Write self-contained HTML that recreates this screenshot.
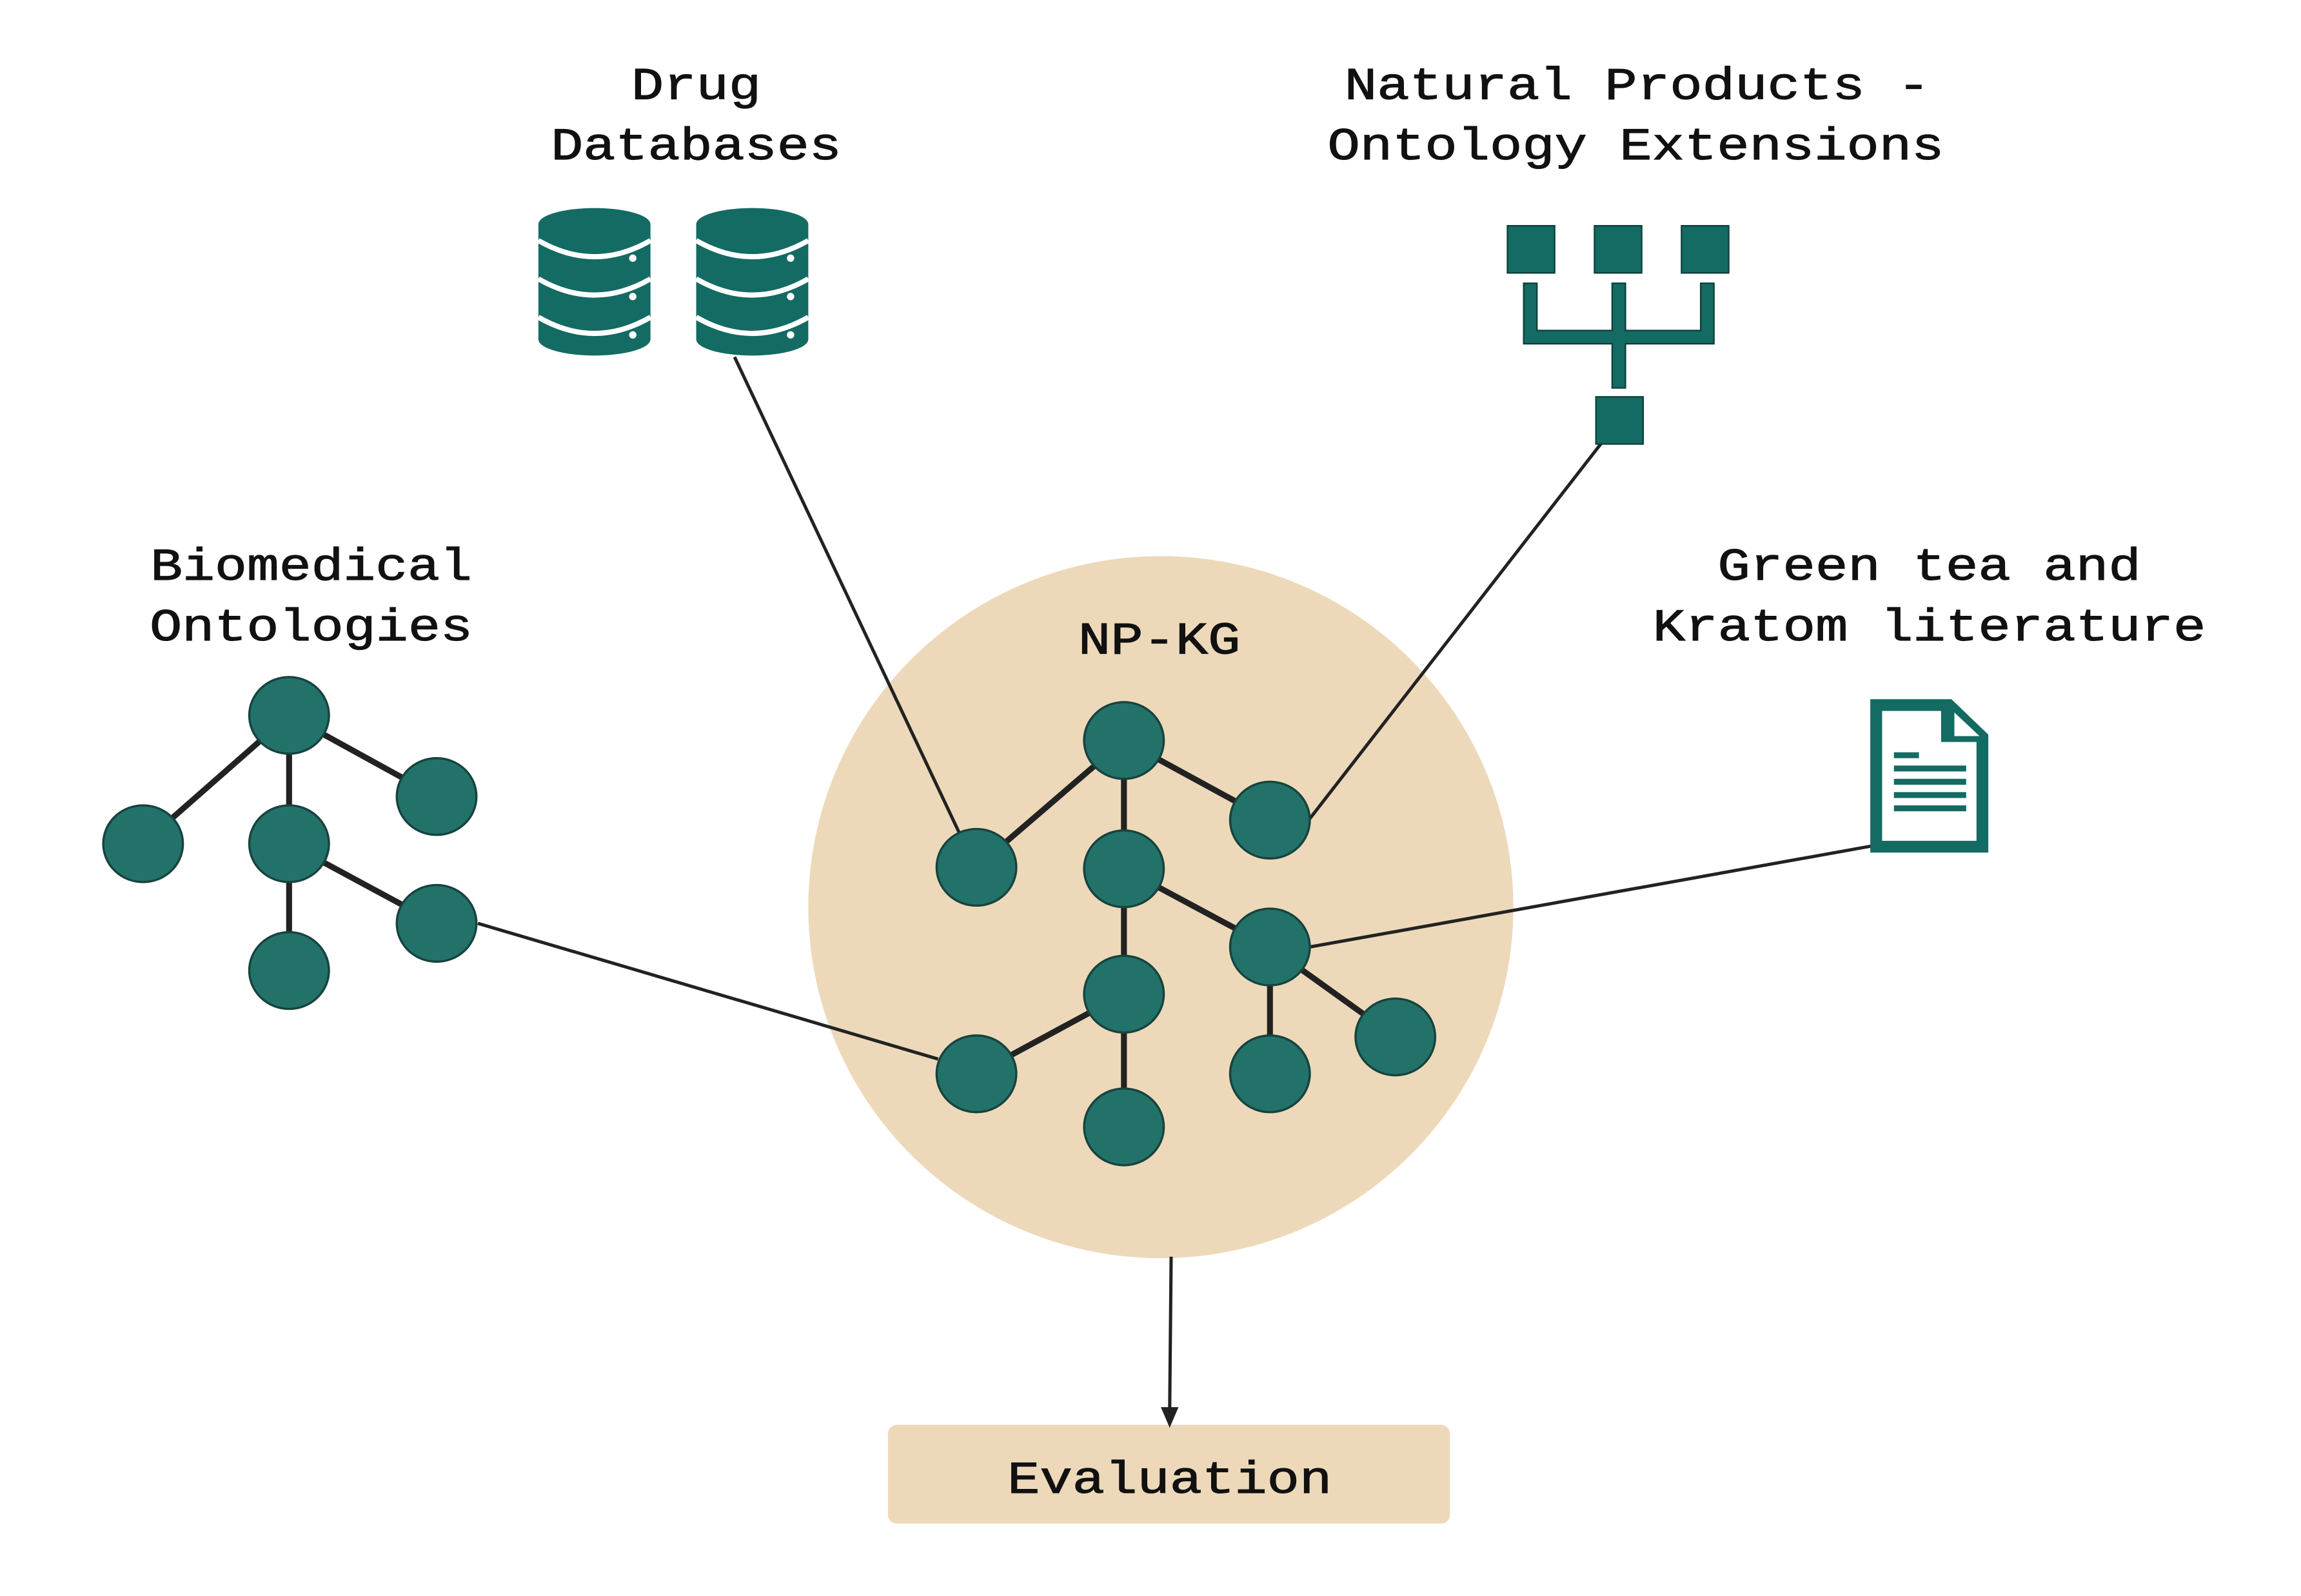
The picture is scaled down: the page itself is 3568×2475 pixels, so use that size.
<!DOCTYPE html>
<html><head><meta charset="utf-8"><style>html,body{margin:0;padding:0;background:#fff}svg{display:block}</style></head>
<body>
<svg width="3568" height="2475" viewBox="0 0 1560 1082" xmlns="http://www.w3.org/2000/svg" font-family="'Liberation Mono', monospace" font-size="31" fill="#111">
<defs>
<g id="cyl">
<rect x="-38" y="152" width="76" height="78" fill="#136b63"/>
<ellipse cx="0" cy="230" rx="38" ry="11" fill="#136b63"/>
<ellipse cx="0" cy="152" rx="38" ry="11" fill="#136b63"/>
<path d="M-38 163 Q0 185 38 163" stroke="#fff" stroke-width="3.5" fill="none"/>
<path d="M-38 189 Q0 211 38 189" stroke="#fff" stroke-width="3.5" fill="none"/>
<path d="M-38 215 Q0 237 38 215" stroke="#fff" stroke-width="3.5" fill="none"/>
<circle cx="26" cy="175" r="2.5" fill="#fff"/>
<circle cx="26" cy="201" r="2.5" fill="#fff"/>
<circle cx="26" cy="227" r="2.5" fill="#fff"/>
</g>
</defs>
<ellipse cx="787" cy="615" rx="239" ry="238" fill="#edd9ba"/>
<rect x="602" y="966" width="381" height="67" rx="6" fill="#edd9ba"/>

<g stroke="#222" stroke-width="2.2" fill="none">
<line x1="498" y1="242" x2="651" y2="566"/>
<line x1="1086" y1="300" x2="888" y2="555"/>
<line x1="1272" y1="573" x2="888" y2="642"/>
<line x1="324" y1="626" x2="636" y2="718"/>
<line x1="794" y1="852" x2="793" y2="956"/>
</g>
<polygon points="787,954 799,954 793,968" fill="#222"/>

<g stroke="#222" stroke-width="4">
<line x1="196" y1="485" x2="97" y2="572"/><line x1="196" y1="485" x2="196" y2="572"/><line x1="196" y1="485" x2="296" y2="540"/>
<line x1="196" y1="572" x2="296" y2="626"/><line x1="196" y1="572" x2="196" y2="658"/>
<line x1="762" y1="502" x2="662" y2="588"/><line x1="762" y1="502" x2="861" y2="556"/><line x1="762" y1="502" x2="762" y2="589"/>
<line x1="762" y1="589" x2="762" y2="674"/><line x1="762" y1="589" x2="861" y2="642"/>
<line x1="861" y1="642" x2="946" y2="703"/><line x1="861" y1="642" x2="861" y2="728"/>
<line x1="762" y1="674" x2="662" y2="728"/><line x1="762" y1="674" x2="762" y2="764"/>
</g>
<g fill="#22726a" stroke="#17433e" stroke-width="1.5">
<ellipse cx="196" cy="485" rx="27" ry="26"/><ellipse cx="97" cy="572" rx="27" ry="26"/><ellipse cx="196" cy="572" rx="27" ry="26"/>
<ellipse cx="296" cy="540" rx="27" ry="26"/><ellipse cx="296" cy="626" rx="27" ry="26"/><ellipse cx="196" cy="658" rx="27" ry="26"/>
<ellipse cx="762" cy="502" rx="27" ry="26"/><ellipse cx="662" cy="588" rx="27" ry="26"/><ellipse cx="861" cy="556" rx="27" ry="26"/>
<ellipse cx="762" cy="589" rx="27" ry="26"/><ellipse cx="861" cy="642" rx="27" ry="26"/><ellipse cx="762" cy="674" rx="27" ry="26"/>
<ellipse cx="946" cy="703" rx="27" ry="26"/><ellipse cx="861" cy="728" rx="27" ry="26"/><ellipse cx="662" cy="728" rx="27" ry="26"/>
<ellipse cx="762" cy="764" rx="27" ry="26"/>
</g>

<use href="#cyl" x="403" y="0"/>
<use href="#cyl" x="510" y="0"/>

<g fill="#136b63" stroke="#0c3f3a" stroke-width="1">
<rect x="1022" y="153" width="32" height="32"/><rect x="1081" y="153" width="32" height="32"/><rect x="1140" y="153" width="32" height="32"/>
<path d="M1033 192 h9 v32 h51 v-32 h9 v32 h51 v-32 h9 v41 h-60 v30 h-9 v-30 h-60 z"/>
<rect x="1082" y="269" width="32" height="32"/>
</g>

<path d="M1268 474 h55 l25 24 v80 h-80 z M1276 482 v88 h64 v-67 h-24 v-21 z M1325 483 v16 h17 z" fill="#136b63" fill-rule="evenodd"/>
<g fill="#136b63">
<rect x="1284" y="510" width="17" height="4"/>
<rect x="1284" y="519" width="49" height="4"/>
<rect x="1284" y="528" width="49" height="4"/>
<rect x="1284" y="537" width="49" height="4"/>
<rect x="1284" y="546" width="49" height="4"/>
</g>

<g text-anchor="middle" stroke="#111" stroke-width="0.5">
<text x="472" y="67" textLength="88" lengthAdjust="spacingAndGlyphs">Drug</text>
<text x="472" y="108" textLength="197" lengthAdjust="spacingAndGlyphs">Databases</text>
<text x="1110" y="67" textLength="397" lengthAdjust="spacingAndGlyphs">Natural Products -</text>
<text x="1109" y="108" textLength="418" lengthAdjust="spacingAndGlyphs">Ontology Extensions</text>
<text x="211" y="393" textLength="218" lengthAdjust="spacingAndGlyphs">Biomedical</text>
<text x="211" y="434" textLength="219" lengthAdjust="spacingAndGlyphs">Ontologies</text>
<text x="1308" y="393" textLength="287" lengthAdjust="spacingAndGlyphs">Green tea and</text>
<text x="1308" y="434" textLength="375" lengthAdjust="spacingAndGlyphs">Kratom literature</text>
<text x="786" y="443" textLength="110" lengthAdjust="spacingAndGlyphs">NP-KG</text>
<text x="793" y="1012" textLength="220" lengthAdjust="spacingAndGlyphs">Evaluation</text>
</g>
</svg>
</body></html>
